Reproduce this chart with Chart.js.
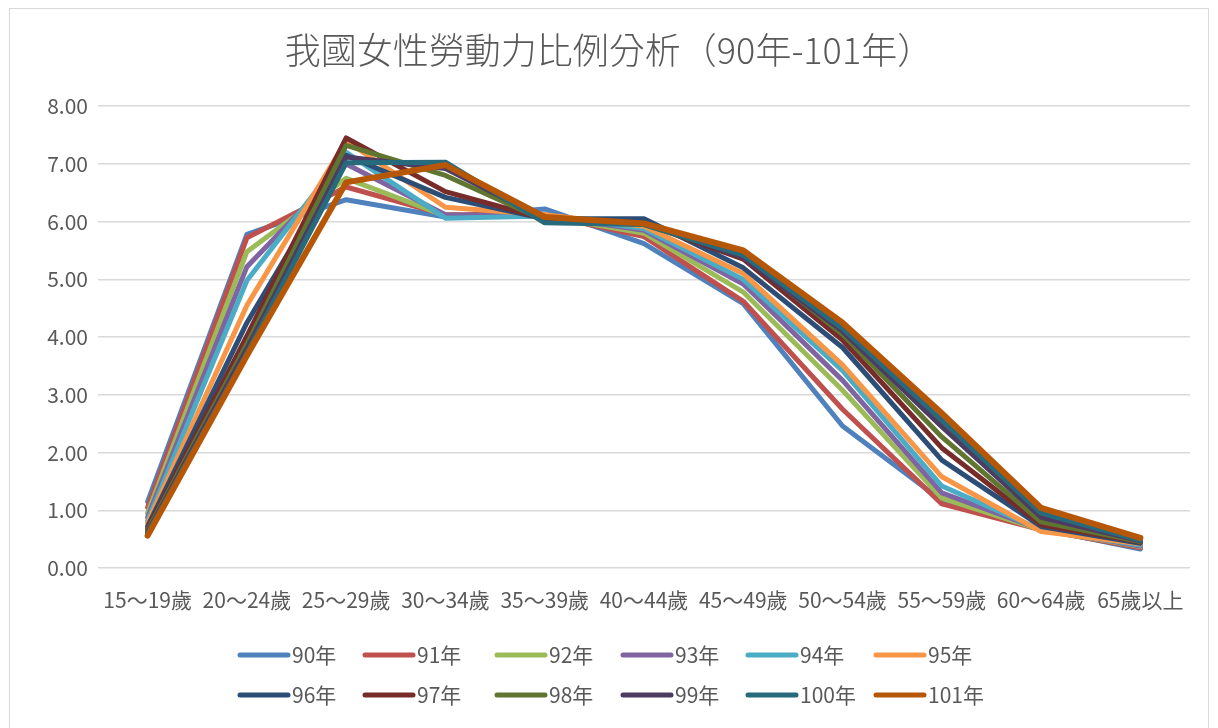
<!DOCTYPE html>
<html>
<head>
<meta charset="utf-8">
<title>我國女性勞動力比例分析</title>
<script src="https://cdn.jsdelivr.net/npm/chart.js"></script>
<style>
  body { margin: 0; background: #fff; }
  #frame { position: absolute; left: 9px; top: 8px; width: 1198px; height: 740px; border: 1px solid #d9d9d9; }
  #wrap { position: absolute; left: 0; top: 0; width: 1218px; height: 728px; }
</style>
</head>
<body>
<div id="frame"></div>
<div id="wrap"><canvas id="laborChart"></canvas></div>

<script>
  // 年齡組別
  const ageGroups = ['15～19歲', '20～24歲', '25～29歲', '30～34歲', '35～39歲', '40～44歲',
                     '45～49歲', '50～54歲', '55～59歲', '60～64歲', '65歲以上'];
  const years = ['90年', '91年', '92年', '93年', '94年', '95年',
                 '96年', '97年', '98年', '99年', '100年', '101年'];
  const yTickLabels = ['0.00', '1.00', '2.00', '3.00', '4.00', '5.00', '6.00', '7.00', '8.00'];

  // 各年度數值
  const y90  = [1.15, 5.78, 6.38, 6.08, 6.22, 5.62, 4.58, 2.46, 1.17, 0.68, 0.33];
  const y91  = [1.05, 5.72, 6.60, 6.12, 6.12, 5.74, 4.62, 2.75, 1.11, 0.66, 0.35];
  const y92  = [0.95, 5.48, 6.75, 6.10, 6.10, 5.80, 4.78, 3.08, 1.21, 0.66, 0.37];
  const y93  = [0.88, 5.22, 7.00, 6.12, 6.10, 5.85, 4.92, 3.25, 1.30, 0.67, 0.38];
  const y94  = [0.82, 4.98, 7.20, 6.06, 6.10, 5.88, 5.00, 3.42, 1.42, 0.66, 0.40];
  const y95  = [0.78, 4.55, 7.40, 6.25, 6.12, 5.92, 5.10, 3.52, 1.58, 0.63, 0.42];
  const y96  = [0.72, 4.25, 7.15, 6.42, 6.05, 6.05, 5.20, 3.82, 1.87, 0.72, 0.43];
  const y97  = [0.68, 4.02, 7.45, 6.52, 6.05, 5.97, 5.35, 3.95, 2.08, 0.75, 0.45];
  const y98  = [0.65, 3.88, 7.32, 6.80, 6.02, 5.95, 5.42, 4.05, 2.27, 0.80, 0.46];
  const y99  = [0.62, 3.80, 7.12, 6.92, 6.05, 5.98, 5.38, 4.10, 2.45, 0.88, 0.47];
  const y100 = [0.60, 3.72, 7.02, 7.03, 5.98, 5.95, 5.42, 4.15, 2.56, 0.95, 0.48];
  const y101 = [0.56, 3.68, 6.68, 6.98, 6.08, 5.97, 5.50, 4.25, 2.68, 1.04, 0.52];

  const seriesValues = [y90, y91, y92, y93, y94, y95, y96, y97, y98, y99, y100, y101];
  const colors = ['#4F81BD', '#C0504D', '#9BBB59', '#8064A2', '#4BACC6', '#F79646',
                  '#2C4D75', '#772C2A', '#5F7530', '#4D3B62', '#276A7C', '#B65708'];

  const fontFamily = "'Noto Sans CJK TC', 'Noto Sans', sans-serif";
  const textColor = '#595959';

  // Excel 式的圖例：兩列，每列六個
  const legendCols = [237, 362, 494, 620, 745, 873];
  const legendRows = [655, 695];
  const gridLegend = {
    id: 'gridLegend',
    afterDraw(chart) {
      const ctx = chart.ctx;
      ctx.save();
      ctx.font = '21px ' + fontFamily;
      ctx.textBaseline = 'middle';
      ctx.textAlign = 'left';
      chart.data.datasets.forEach((ds, i) => {
        const x = legendCols[i % 6];
        const y = legendRows[Math.floor(i / 6)];
        ctx.strokeStyle = ds.borderColor;
        ctx.lineWidth = 5;
        ctx.lineCap = 'round';
        ctx.beginPath();
        ctx.moveTo(x + 3, y);
        ctx.lineTo(x + 51, y);
        ctx.stroke();
        ctx.fillStyle = textColor;
        ctx.fillText(ds.label, x + 55, y);
      });
      ctx.restore();
    }
  };

  const datasets = years.map((yr, i) => ({
    label: yr,
    data: seriesValues[i],
    borderColor: colors[i],
    backgroundColor: colors[i],
    borderWidth: i === 11 ? 6 : 5,
    borderCapStyle: 'round',
    borderJoinStyle: 'round',
    pointRadius: 0,
    tension: 0,
    order: years.length - i   // 後面的年度畫在上層
  }));

  const ctx = document.getElementById('laborChart').getContext('2d');
  new Chart(ctx, {
    type: 'line',
    data: { labels: ageGroups, datasets: datasets },
    plugins: [gridLegend],
    options: {
      responsive: true,
      maintainAspectRatio: false,
      animation: false,
      layout: { padding: { top: 10, right: 28, bottom: 100, left: 28 } },
      plugins: {
        legend: { display: false },
        tooltip: { enabled: false },
        title: {
          display: true,
          text: '我國女性勞動力比例分析（90年-101年）',
          color: textColor,
          font: { family: fontFamily, size: 36, weight: 300 },
          padding: { top: 19, bottom: 34 }
        }
      },
      scales: {
        x: {
          offset: true,
          grid: { display: false, drawTicks: false },
          border: { display: false },
          ticks: {
            color: textColor,
            font: { family: fontFamily, size: 21 },
            padding: 19,
            autoSkip: false,
            maxRotation: 0,
            minRotation: 0
          },
          afterFit: scale => { scale.height = 60; }
        },
        y: {
          min: 0,
          max: 8,
          ticks: {
            stepSize: 1,
            padding: 10,
            color: textColor,
            font: { family: fontFamily, size: 21 },
            callback: (v, i) => yTickLabels[i]
          },
          grid: { color: '#d9d9d9', lineWidth: 1.5, drawTicks: false },
          border: { display: false },
          afterFit: scale => { scale.width = 70; }
        }
      }
    }
  });
</script>
</body>
</html>
